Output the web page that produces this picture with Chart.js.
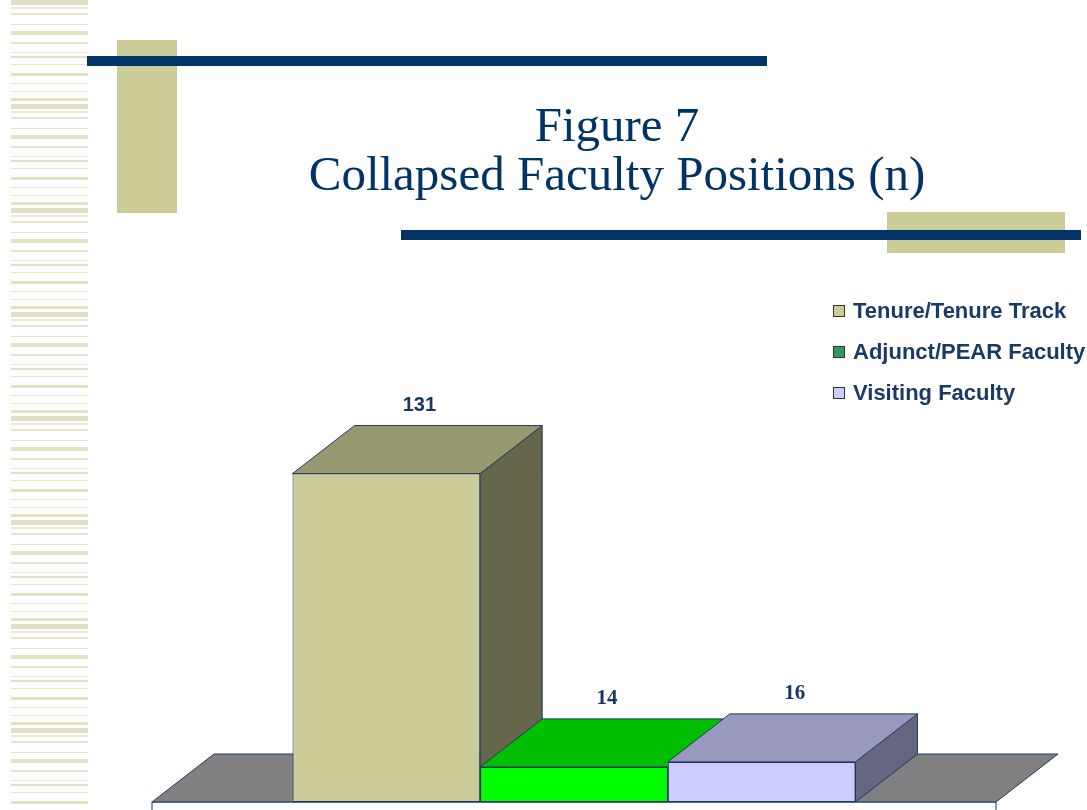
<!DOCTYPE html>
<html>
<head>
<meta charset="utf-8">
<script src="https://cdn.jsdelivr.net/npm/chart.js@4.4.0/dist/chart.umd.min.js"></script>
<style>
body { margin: 0; width: 1087px; height: 810px; overflow: hidden; background: #fff; position: relative; font-family: "Liberation Sans", Arial, sans-serif; }
.stripes { position: absolute; left: 11px; top: 0; width: 77px; height: 810px;
	background: repeating-linear-gradient(to bottom,
		#e2e1c2 0px, #e2e1c2 5px, transparent 5px, transparent 7px,
		#ecebd8 7px, #ecebd8 9px, transparent 9px, transparent 13px,
		#e6e5cc 13px, #e6e5cc 15px, transparent 15px, transparent 24px,
		#e6e5cc 24px, #e6e5cc 25px, transparent 25px, transparent 31px,
		#e2e1c2 31px, #e2e1c2 35px, transparent 35px, transparent 42px,
		#e6e5cc 42px, #e6e5cc 44px, transparent 44px, transparent 52px,
		#ecebd8 52px, #ecebd8 53px, transparent 53px, transparent 56px,
		#e2e1c2 56px, #e2e1c2 58px, transparent 58px, transparent 64px,
		#e6e5cc 64px, #e6e5cc 65px, transparent 65px, transparent 73px,
		#e2e1c2 73px, #e2e1c2 76px, transparent 76px, transparent 83px,
		#e6e5cc 83px, #e6e5cc 84px, transparent 84px, transparent 91px,
		#ecebd8 91px, #ecebd8 92px, transparent 92px, transparent 98px,
		#e2e1c2 98px, #e2e1c2 101px, transparent 101px, transparent 104px); }
.block { position: absolute; background: #cccc99; }
.rule { position: absolute; background: #003366; }
#title { position: absolute; left: 300px; width: 634px; top: 100px; text-align: center;
	font-family: "Liberation Serif", "Times New Roman", serif; font-size: 49px; line-height: 49px; color: #003366; }
#legend { position: absolute; left: 833px; top: 299px; z-index: 2; }
.item { height: 41px; display: flex; align-items: flex-start; font-weight: bold; font-size: 22px; color: #1a3a66; line-height: 24px; white-space: nowrap; }
.swatch { width: 10px; height: 10px; border: 1px solid #333; margin: 6px 8px 0 0; flex: none; }
#chart { position: absolute; left: 0; top: 0; z-index: 1; }
</style>
</head>
<body>
<div class="stripes"></div>
<div class="block" style="left:117px; top:40px; width:60px; height:173px;"></div>
<div class="rule" style="left:87px; top:56px; width:680px; height:10px;"></div>
<div class="block" style="left:887px; top:212px; width:178px; height:41px;"></div>
<div class="rule" style="left:401px; top:230px; width:680px; height:10px;"></div>
<div id="title">Figure 7<br>Collapsed Faculty Positions (n)</div>
<div id="legend"></div>
<canvas id="chart" width="1087" height="810"></canvas>
<script>
const categories = ["Collapsed Faculty Positions"];
const seriesNames = ["Tenure/Tenure Track", "Adjunct/PEAR Faculty", "Visiting Faculty"];
const seriesValues = [131, 14, 16];

// face colours: front, top, side
const frontColors = ["#cccc99", "#00ff00", "#ccccff"];
const topColors = ["#999970", "#00bf00", "#9999bf"];
const sideColors = ["#66664c", "#008000", "#666680"];
const legendColors = ["#cccc99", "#339966", "#ccccff"];
const labelFonts = ["bold 20px 'Liberation Sans'", "bold 21px 'Liberation Serif'", "bold 21px 'Liberation Serif'"];

const edge = "#1f3a60";
const dx = 62, dy = -48;

function poly(ctx, pts, fill) {
	ctx.beginPath();
	ctx.moveTo(pts[0][0], pts[0][1]);
	for (let i = 1; i < pts.length; i++) ctx.lineTo(pts[i][0], pts[i][1]);
	ctx.closePath();
	ctx.fillStyle = fill;
	ctx.fill();
	ctx.stroke();
}

const threeD = {
	id: 'threeD',
	beforeDatasetsDraw(chart) {
		let ctx = chart.ctx;
		let a = chart.chartArea;
		ctx.save();
		ctx.lineWidth = 1;
		ctx.strokeStyle = edge;
		// floor slab
		ctx.fillStyle = "#fff";
		ctx.fillRect(a.left, a.bottom, a.right - a.left, 14);
		ctx.strokeRect(a.left, a.bottom, a.right - a.left, 14);
		poly(ctx, [[a.left, a.bottom], [a.right, a.bottom], [a.right + dx, a.bottom + dy], [a.left + dx, a.bottom + dy]], "#808080");
		// side and top of each bar, left to right
		chart.data.datasets.forEach((ds, i) => {
			let bar = chart.getDatasetMeta(i).data[0];
			let l = bar.x - bar.width / 2, r = bar.x + bar.width / 2;
			let t = bar.y, b = bar.base;
			poly(ctx, [[r, t], [r + dx, t + dy], [r + dx, b + dy], [r, b]], sideColors[i]);
			poly(ctx, [[l, t], [r, t], [r + dx, t + dy], [l + dx, t + dy]], topColors[i]);
		});
		ctx.restore();
	},
	afterDatasetsDraw(chart) {
		let ctx = chart.ctx;
		ctx.save();
		ctx.fillStyle = "#17375e";
		ctx.textAlign = "center";
		ctx.textBaseline = "bottom";
		chart.data.datasets.forEach((ds, i) => {
			let bar = chart.getDatasetMeta(i).data[0];
			ctx.font = labelFonts[i];
			ctx.fillText(ds.data[0], bar.x + dx / 2 + 2, bar.y + dy - 10);
		});
		ctx.restore();
	}
};

new Chart(
	document.getElementById("chart"),
	{
		type: 'bar',
		data: {
			labels: categories,
			datasets: seriesNames.map((name, i) => ({
				label: name,
				data: [seriesValues[i]],
				backgroundColor: frontColors[i],
				borderColor: edge,
				borderWidth: 1,
				borderSkipped: false,
				categoryPercentage: 0.667,
				barPercentage: 1
			}))
		},
		options: {
			responsive: false,
			animation: false,
			layout: { padding: { left: 152, right: 91, top: 451, bottom: 8 } },
			scales: {
				x: { display: false },
				y: { display: false, min: 0, max: 140 }
			},
			plugins: {
				legend: { display: false },
				tooltip: { enabled: false }
			}
		},
		plugins: [threeD]
	}
);

// legend
let legend = document.getElementById("legend");
seriesNames.map((name, i) => {
	let row = document.createElement("div");
	row.className = "item";
	let sw = document.createElement("span");
	sw.className = "swatch";
	sw.style.background = legendColors[i];
	row.append(sw);
	row.append(document.createTextNode(name));
	legend.append(row);
});
</script>
</body>
</html>
